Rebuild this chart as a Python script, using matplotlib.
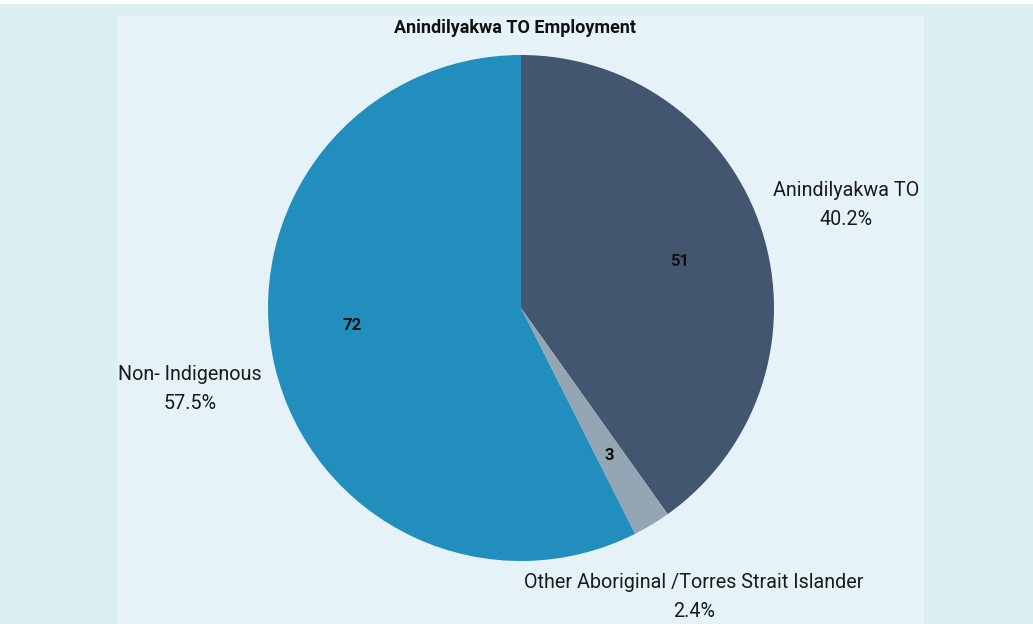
import matplotlib
matplotlib.use("Agg")
import matplotlib.pyplot as plt
from matplotlib.patches import Rectangle

plt.rcParams['font.family'] = ['Roboto', 'DejaVu Sans']

# Employment breakdown
categories = ["Anindilyakwa TO", "Other Aboriginal /Torres Strait Islander", "Non- Indigenous"]
counts = [51, 3, 72]
percents = [40.2, 2.4, 57.5]
colors = ["#42566f", "#94a6b4", "#228ebd"]
title = "Anindilyakwa TO Employment"

W, H = 1033, 624
fig = plt.figure(figsize=(W / 100, H / 100), dpi=100)
fig.patch.set_facecolor("white")

def px_rect(x0, y0, x1, y1, color):
    fig.patches.append(Rectangle((x0 / W, 1 - y1 / H), (x1 - x0) / W, (y1 - y0) / H,
                                 transform=fig.transFigure, facecolor=color,
                                 edgecolor="none", zorder=-10))

# outer band and inner panel
px_rect(0, 4, W, H, "#dbeef2")
px_rect(117, 16, 924, H, "#e5f2f8")

# pie axes: centre (521, 308), radius 253 px
cx, cy, r = 521, 308, 253
ax = fig.add_axes([(cx - r) / W, 1 - (cy + r) / H, 2 * r / W, 2 * r / H])
ax.set_zorder(1)

wedges, _ = ax.pie(percents, colors=colors, startangle=90, counterclock=False,
                   radius=1, wedgeprops=dict(linewidth=0))
ax.set_xlim(-1, 1)
ax.set_ylim(-1, 1)
ax.set_aspect("equal")
ax.axis("off")

# value labels inside slices
inner_pos = [(680, 261), (609, 455), (352, 325)]
for (x, y), n in zip(inner_pos, counts):
    fig.text(x / W, 1 - y / H, str(n), ha="center", va="center",
             fontsize=12, fontweight="bold", color="#111111", zorder=5)

# category labels outside
outer_pos = [(846, 205), (694, 597), (190, 389)]
for (x, y), name, p in zip(outer_pos, categories, percents):
    fig.text(x / W, 1 - y / H, f"{name}\n{p:.1f}%", ha="center", va="center",
             fontsize=14.2, color="#1a1a1a", linespacing=1.62, zorder=5)

fig.text(515 / W, 1 - 28 / H, title, ha="center", va="center",
         fontsize=13, fontweight="bold", color="#111111", zorder=5)

fig.savefig("out.png", dpi=100, facecolor=fig.get_facecolor())
